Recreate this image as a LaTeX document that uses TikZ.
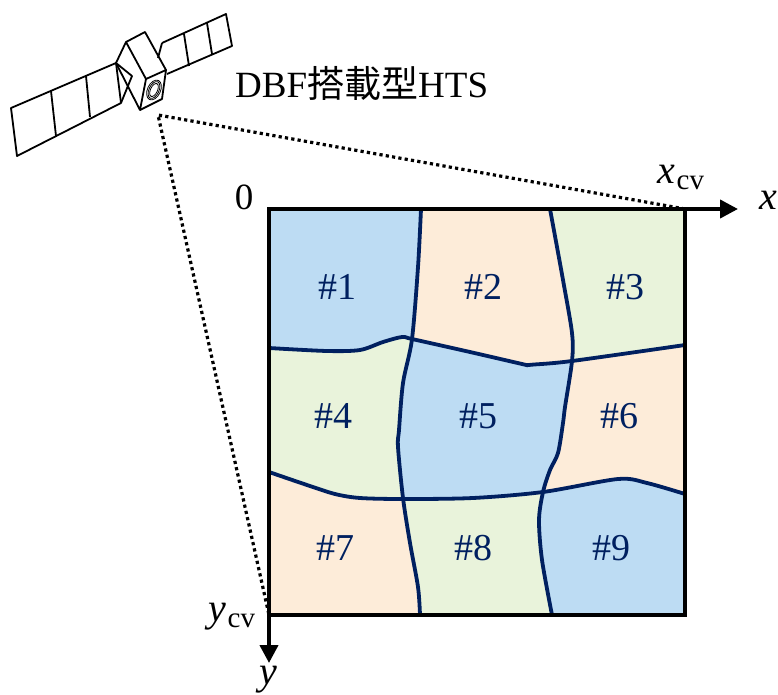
\documentclass[tikz,border=0pt]{standalone}
\usepackage{fontspec}
\setmainfont{Liberation Serif}
\newfontfamily\cjk{Noto Sans CJK JP}
\usetikzlibrary{arrows.meta}
\definecolor{cellBlue}{HTML}{BDDCF3}
\definecolor{cellPeach}{HTML}{FDECD9}
\definecolor{cellGreen}{HTML}{E9F3DB}
\definecolor{cellNavy}{HTML}{002060}
\tikzset{
  sat line/.style={draw=black, line width=1.8pt, line join=round},
  cell edge/.style={draw=cellNavy, line width=3.8pt, line cap=round},
  cell frame/.style={draw=black, line width=4pt},
  cv axis/.style={draw=black, line width=4pt, -{Triangle[length=18pt,width=18pt]}},
  cv guide/.style={draw=black, line width=3.2pt, dash pattern=on 3.2pt off 3.2pt},
  cell label/.style={font=\fontsize{38}{42}\selectfont, text=cellNavy},
  cv label/.style={font=\fontsize{37}{41}\selectfont, text=black},
}
% cell borders, in picture pixels
\def\vOne{(421,209) (418,267) (412,339) (403,383) (399,430) (398,447) (403,498) (410,543) (418,587) (420,615)}
\def\vTwo{(550,209) (563,280) (572,333) (572,361) (565,407) (563,423) (558,453) (550,470) (543,492) (539,520) (542,560) (552,615)}
\def\hOne{(269,348) (327,351) (360,350) (383,342) (402,337) (412,339) (470,352) (522,364) (527,365) (533,364.6) (572,361) (685,345)}
\def\hTwo{(269,472) (307,485) (335,494) (360,498) (403,499) (473,498) (543,492) (618,479) (647,483) (685,494)}
\newcommand{\cvsub}[2]{{\fontsize{40}{44}\selectfont\textit{#1}}\kern1pt\raisebox{-6pt}{\fontsize{29}{31}\selectfont #2}}

\begin{document}
\begin{tikzpicture}[x=1pt,y=-1pt]
  \useasboundingbox (0,0) rectangle (778,695);

  % Bottom row first, upper rows are clipped over it
  \fill[cellBlue] (269,209) rectangle (685,615);
  \fill[cellGreen] plot[smooth] coordinates {\vTwo} -- (269,615) -- (269,209) -- cycle;
  \fill[cellPeach] plot[smooth] coordinates {\vOne} -- (269,615) -- (269,209) -- cycle;
  \begin{scope}
    \clip plot[smooth] coordinates {\hTwo} -- (685,209) -- (269,209) -- cycle;
    \fill[cellPeach] (269,209) rectangle (685,615);
    \fill[cellBlue] plot[smooth] coordinates {\vTwo} -- (269,615) -- (269,209) -- cycle;
    \fill[cellGreen] plot[smooth] coordinates {\vOne} -- (269,615) -- (269,209) -- cycle;
  \end{scope}
  \begin{scope}
    \clip plot[smooth] coordinates {\hOne} -- (685,209) -- (269,209) -- cycle;
    \fill[cellGreen] (269,209) rectangle (685,615);
    \fill[cellPeach] plot[smooth] coordinates {\vTwo} -- (269,615) -- (269,209) -- cycle;
    \fill[cellBlue] plot[smooth] coordinates {\vOne} -- (269,615) -- (269,209) -- cycle;
  \end{scope}

  % Borders between cells
  \draw[cell edge] plot[smooth] coordinates {\vOne};
  \draw[cell edge] plot[smooth] coordinates {\vTwo};
  \draw[cell edge] plot[smooth] coordinates {\hOne};
  \draw[cell edge] plot[smooth] coordinates {\hTwo};

  % Cell numbers
  \foreach \n/\x/\y in {1/337/287, 2/483/287, 3/625/287,
                        4/333/416, 5/478/416, 6/619/416,
                        7/335/548, 8/473/548, 9/611/548} {
    \node[cell label] (cell\n) at (\x,\y) {\#\n};
  }

  % Frame and axes
  \coordinate (origin) at (269,209);
  \coordinate (xcv) at (685,209);
  \coordinate (ycv) at (269,615);
  \coordinate (xend) at (738,209);
  \coordinate (yend) at (269,663);
  \coordinate (apex) at (158,115);
  \draw[cell frame] (origin) rectangle (685,615);
  \draw[cv axis] (origin) -- (xend);
  \draw[cv axis] (origin) -- (yend);
  \draw[cv guide] (xcv) -- (apex) -- (ycv);

  \node[cv label] (zero) at (244,197) {0};
  \node[cv label] (xcvlabel) at (681,177) {\cvsub{x}{cv}};
  \node[cv label] (xlabel) at (768,200) {\fontsize{40}{44}\selectfont\textit{x}};
  \node[cv label] (ycvlabel) at (232,617) {\cvsub{y}{cv}};
  \node[cv label] (ylabel) at (268,680) {\fontsize{40}{44}\selectfont\textit{y}};
  \node[cv label, anchor=west, inner sep=0pt] (hts) at (235,83) {DBF{\cjk 搭載型}HTS};

  % Satellite: panels
  \draw[sat line] (11,108) -- (116,63) -- (121,103) -- (17,156) -- cycle;
  \draw[sat line] (51,91) -- (56,136) (86,76) -- (90,117);
  \draw[sat line] (162,43) -- (226,14) -- (232,46) -- (167,74);
  \draw[sat line] (184,34) -- (189,66) (207,23) -- (212,54);
  % Satellite: arms
  \draw[sat line] (116,63) -- (132,76) -- (121,103);
  \draw[sat line] (162,43) -- (158,58);
  % Satellite: body
  \draw[sat line] (126,42) -- (145,32) -- (166,70) -- (146,79) -- cycle;
  \draw[sat line] (126,42) -- (116,63) -- (140,110) -- (146,79);
  \draw[sat line] (166,70) -- (162,99) -- (140,110);
  \foreach \r/\s in {10.5/6.5, 9/5, 7/3.5} {
    \draw[black, line width=0.8pt, rotate around={-25:(154,90)}] (154,90) ellipse ({\s} and {\r});
  }
\end{tikzpicture}
\end{document}
